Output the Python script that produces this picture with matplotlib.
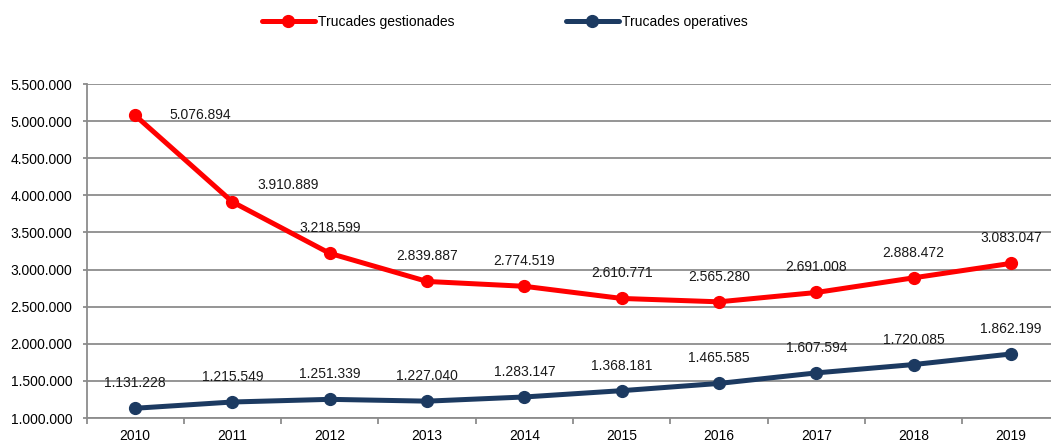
import matplotlib.pyplot as plt
from matplotlib.ticker import FuncFormatter, MultipleLocator, FixedLocator

plt.rcParams['font.family'] = ['Liberation Sans', 'DejaVu Sans']

years = ['2010', '2011', '2012', '2013', '2014', '2015', '2016', '2017', '2018', '2019']
gestionades = [5076894, 3910889, 3218599, 2839887, 2774519, 2610771, 2565280, 2691008, 2888472, 3083047]
operatives = [1131228, 1215549, 1251339, 1227040, 1283147, 1368181, 1465585, 1607594, 1720085, 1862199]

red = '#FF0000'
navy = '#1C3A61'
grid_col = '#8C8C8C'


def fmt(v):
    return f'{int(v):,}'.replace(',', '.')


fig = plt.figure(figsize=(10.51, 4.41), dpi=100)
ax = fig.add_axes([86.5 / 1051, 23 / 441, 973 / 1051, 334 / 441])

x = list(range(len(years)))
ax.plot(x, gestionades, color=red, lw=3.6, marker='o', ms=8.5, label='Trucades gestionades',
        solid_capstyle='round', zorder=3)
ax.plot(x, operatives, color=navy, lw=3.6, marker='o', ms=8.5, label='Trucades operatives',
        solid_capstyle='round', zorder=3)

# data labels (first two red ones were moved to the right in the original)
red_offsets = [(47, 0), (40, 12)] + [(0, 18)] * 8
for i, v in enumerate(gestionades):
    dx, dy = red_offsets[i]
    ax.annotate(fmt(v), (i, v), xytext=(dx, dy), textcoords='offset points',
                ha='center', va='center', fontsize=10, color='#1a1a1a')
for i, v in enumerate(operatives):
    ax.annotate(fmt(v), (i, v), xytext=(0, 18), textcoords='offset points',
                ha='center', va='center', fontsize=10, color='#1a1a1a')

ax.set_xlim(-0.5, len(years) - 0.5)
ax.set_ylim(1000000, 5500000)
ax.yaxis.set_major_locator(MultipleLocator(500000))
ax.yaxis.set_major_formatter(FuncFormatter(lambda v, p: fmt(v)))
ax.grid(axis='y', color=grid_col, lw=1.3)
ax.set_axisbelow(True)

ax.set_xticks(x)
ax.set_xticklabels(years)
ax.xaxis.set_minor_locator(FixedLocator([i - 0.5 for i in range(len(years) + 1)]))
ax.tick_params(axis='x', which='major', length=0, pad=8, labelsize=10)
ax.tick_params(axis='x', which='minor', length=4, color=grid_col, width=1.3)
ax.tick_params(axis='y', length=3, color=grid_col, width=1.3, pad=7, labelsize=10)

for s in ['top', 'right']:
    ax.spines[s].set_visible(False)
ax.spines['left'].set_color(grid_col)
ax.spines['left'].set_linewidth(1.3)
ax.spines['bottom'].set_color(grid_col)
ax.spines['bottom'].set_linewidth(1.3)

fig.legend(loc='center', bbox_to_anchor=(505 / 1051, 1 - 22 / 441), ncol=2, frameon=False,
           fontsize=10, handlelength=3.8, handletextpad=0.25, columnspacing=8)

fig.savefig('out.png', dpi=100)
